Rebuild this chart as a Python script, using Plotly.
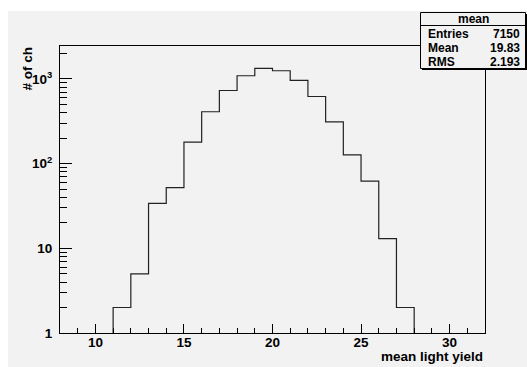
import plotly.graph_objects as go

# Histogram of mean light yield per channel (1-unit bins)
bin_lo = 11
bin_width = 1
counts = [2, 5, 34, 52, 179, 410, 730, 1090, 1330, 1250, 960, 620, 311, 127, 62, 13, 2]

# Statistics box contents
stats_title = "mean"
stats_labels = ["Entries", "Mean", "RMS"]
stats_values = ["7150", "19.83", "2.193"]

# Axis labels / ticks
x_title = "mean light yield"
y_title = "# of ch"
y_tickvals = [1, 10, 100, 1000]
y_ticktext = ["1", "10", "10<sup>2</sup>", "10<sup>3</sup>"]

W, H = 527, 367
L, R, T, B = 60, 485, 46, 333
FONT = "Liberation Sans"
BG = "#f2f2f2"


def px(x):
    return (x - L) / (R - L)


def py(y):
    return (B - y) / (B - T)


edges = [bin_lo + i * bin_width for i in range(len(counts) + 1)]
xs = [edges[0]] + edges[:-1] + [edges[-1]]
ys = [1] + counts + [1]

fig = go.Figure()
fig.add_trace(go.Scatter(
    x=xs, y=ys, mode="lines", line=dict(shape="hv", color="#222222", width=1.2),
    hoverinfo="skip", showlegend=False,
))

minor_y = [m * 10 ** d for d in range(0, 4) for m in range(2, 10) if m * 10 ** d < 2450]

shapes = [
    # canvas pad
    dict(type="rect", xref="paper", yref="paper", x0=px(8), x1=px(W + 2), y0=py(H + 2), y1=py(11),
         fillcolor=BG, line=dict(width=0), layer="below"),
    # stats box shadow
    dict(type="rect", xref="paper", yref="paper", x0=px(422), x1=px(527), y0=py(70), y1=py(14),
         fillcolor="#000000", line=dict(width=0)),
    # stats box
    dict(type="rect", xref="paper", yref="paper", x0=px(420.5), x1=px(525.5), y0=py(68.5), y1=py(12.5),
         fillcolor=BG, line=dict(color="#000000", width=1)),
    dict(type="line", xref="paper", yref="paper", x0=px(420.5), x1=px(525.5), y0=py(25.5), y1=py(25.5),
         line=dict(color="#000000", width=1)),
]

af = dict(family=FONT, size=13.5, color="#000000", weight="bold")
sf = dict(family=FONT, size=12, color="#000000", weight="bold")
annotations = [
    dict(text=stats_title, xref="paper", yref="paper", x=px(473), y=py(18.5),
         xanchor="center", yanchor="middle", showarrow=False, font=sf),
    dict(text=x_title, xref="paper", yref="paper", x=px(485), y=py(356.5),
         xanchor="right", yanchor="middle", showarrow=False, font=af),
    dict(text=y_title, xref="paper", yref="paper", x=px(26.5), y=py(45),
         xanchor="center", yanchor="top", textangle=-90, showarrow=False, font=af),
]
for i, (lab, val) in enumerate(zip(stats_labels, stats_values)):
    yc = 33.5 + i * 14.3
    annotations.append(dict(text=lab, xref="paper", yref="paper", x=px(426), y=py(yc),
                            xanchor="left", yanchor="middle", showarrow=False, font=sf))
    annotations.append(dict(text=val, xref="paper", yref="paper", x=px(522), y=py(yc),
                            xanchor="right", yanchor="middle", showarrow=False, font=sf))

fig.update_layout(
    width=W, height=H, autosize=False,
    margin=dict(l=L, r=W - R, t=T, b=H - B, pad=0),
    paper_bgcolor="#ffffff", plot_bgcolor=BG,
    shapes=shapes, annotations=annotations,
    xaxis=dict(
        range=[8, 32], showgrid=False, zeroline=False,
        showline=True, mirror=True, linecolor="#000000", linewidth=1,
        ticks="inside", ticklen=9, tickwidth=1, tickcolor="#000000",
        tick0=0, dtick=5, tickfont=af, ticklabelstandoff=-3,
        minor=dict(ticks="inside", ticklen=5, tickwidth=1, tickcolor="#000000", dtick=1, tick0=0, showgrid=False),
    ),
    yaxis=dict(
        type="log", range=[0, 3.389], showgrid=False, zeroline=False,
        showline=True, mirror=True, linecolor="#000000", linewidth=1,
        ticks="inside", ticklen=12, tickwidth=1, tickcolor="#000000",
        tickmode="array", tickvals=y_tickvals, ticktext=y_ticktext, tickfont=af,
        ticklabelstandoff=4,
        minor=dict(ticks="inside", ticklen=7, tickwidth=1, tickcolor="#000000",
                   tickmode="array", tickvals=minor_y, showgrid=False),
    ),
)

fig.write_html("out.html")
